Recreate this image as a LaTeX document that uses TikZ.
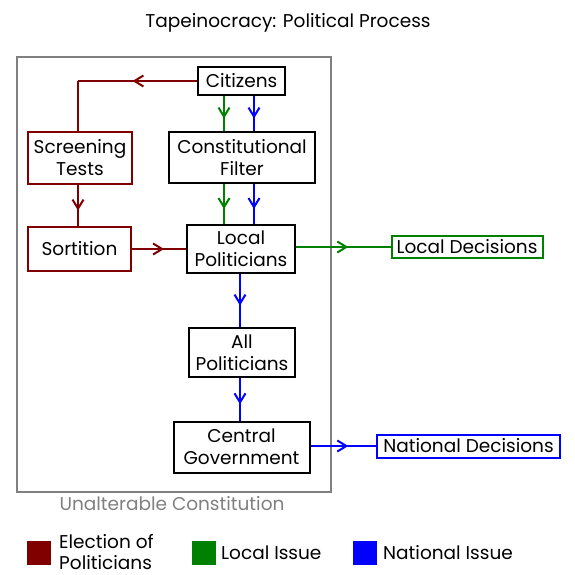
\documentclass[tikz,border=0pt]{standalone}
\usepackage{fontspec}
\setmainfont{Poppins}
\usetikzlibrary{arrows.meta,decorations.markings}
\definecolor{dred}{HTML}{800000}
\definecolor{dgreen}{HTML}{008000}
\definecolor{dblue}{HTML}{0000FF}
\definecolor{frame}{HTML}{808080}
\tikzset{
  txt/.style={font=\fontsize{18.5}{22}\selectfont},
  box/.style={draw=black,line width=2pt,inner sep=0pt,align=center,txt},
  redbox/.style={box,draw=dred},
  outbox/.style={draw,line width=2pt,inner sep=0pt,txt},
  conn/.style={line width=2pt},
  midarr/.style={postaction={decorate},decoration={markings,mark=at position 0.5 with {\arrow[xshift=5pt]{Straight Barb[length=9pt,width=11pt,line width=2pt]}}}},
  legsq/.style={fill,minimum size=24pt,inner sep=0pt},
  legtxt/.style={anchor=west,inner sep=0pt,align=left,font=\fontsize{18.5}{21.5}\selectfont}
}
\begin{document}
\begin{tikzpicture}[x=1pt,y=-1pt]
\useasboundingbox (0,0) rectangle (575,575);
\node[txt] (title) at (288,23) {Tapeinocracy: Political Process};
\node[draw=frame,line width=2pt,minimum width=314pt,minimum height=435pt,inner sep=0pt] (frm) at (174,274.5) {};
\node[text=frame,txt] (ulab) at (172,504) {Unalterable Constitution};
% nodes
\node[box,minimum width=87pt,minimum height=28pt] (cit) at (241.5,81) {Citizens};
\node[box,minimum width=146pt,minimum height=51pt] (fil) at (242,157.5) {Constitutional\\Filter};
\node[redbox,minimum width=104pt,minimum height=52pt] (scr) at (80,158) {Screening\\Tests};
\node[redbox,minimum width=103pt,minimum height=44pt] (sor) at (79.5,249) {Sortition};
\node[box,minimum width=108pt,minimum height=48pt] (loc) at (241,249) {Local\\Politicians};
\node[outbox,draw=dgreen,minimum width=151pt,minimum height=22pt] (ld) at (467,247) {Local Decisions};
\node[box,minimum width=106pt,minimum height=49pt] (all) at (242,352.5) {All\\Politicians};
\node[box,minimum width=136pt,minimum height=51pt] (cen) at (241.5,447) {Central\\Government};
\node[outbox,draw=dblue,minimum width=183pt,minimum height=23pt] (nd) at (468.5,446) {National Decisions};
% connectors
\coordinate (c1) at (78,81);
\draw[conn,dred,midarr] (cit.west) -- (c1);
\draw[conn,dred] (c1) -- (c1 |- scr.north);
\draw[conn,dred,midarr] (scr.south -| 78,0) -- (sor.north -| 78,0);
\draw[conn,dred,midarr] (sor.east) -- (loc.west |- sor.east);
\draw[conn,dgreen,midarr] (cit.south -| 224,0) -- (fil.north -| 224,0);
\draw[conn,dblue,midarr] (cit.south -| 254,0) -- (fil.north -| 254,0);
\draw[conn,dgreen,midarr] (fil.south -| 224,0) -- (loc.north -| 224,0);
\draw[conn,dblue,midarr] (fil.south -| 254,0) -- (loc.north -| 254,0);
\draw[conn,dgreen,midarr] (loc.east |- ld.west) -- (ld.west);
\draw[conn,dblue,midarr] (loc.south -| 240,0) -- (all.north -| 240,0);
\draw[conn,dblue,midarr] (all.south -| 240,0) -- (cen.north -| 240,0);
\draw[conn,dblue,midarr] (cen.east |- nd.west) -- (nd.west);
% legend
\node[legsq,dred] (lg1) at (39,553) {};
\node[legtxt] (lt1) at (59,552) {Election of\\Politicians};
\node[legsq,dgreen] (lg2) at (204,553) {};
\node[legtxt] (lt2) at (221,553) {Local Issue};
\node[legsq,dblue] (lg3) at (365,553) {};
\node[legtxt] (lt3) at (383,553) {National Issue};
\end{tikzpicture}
\end{document}
